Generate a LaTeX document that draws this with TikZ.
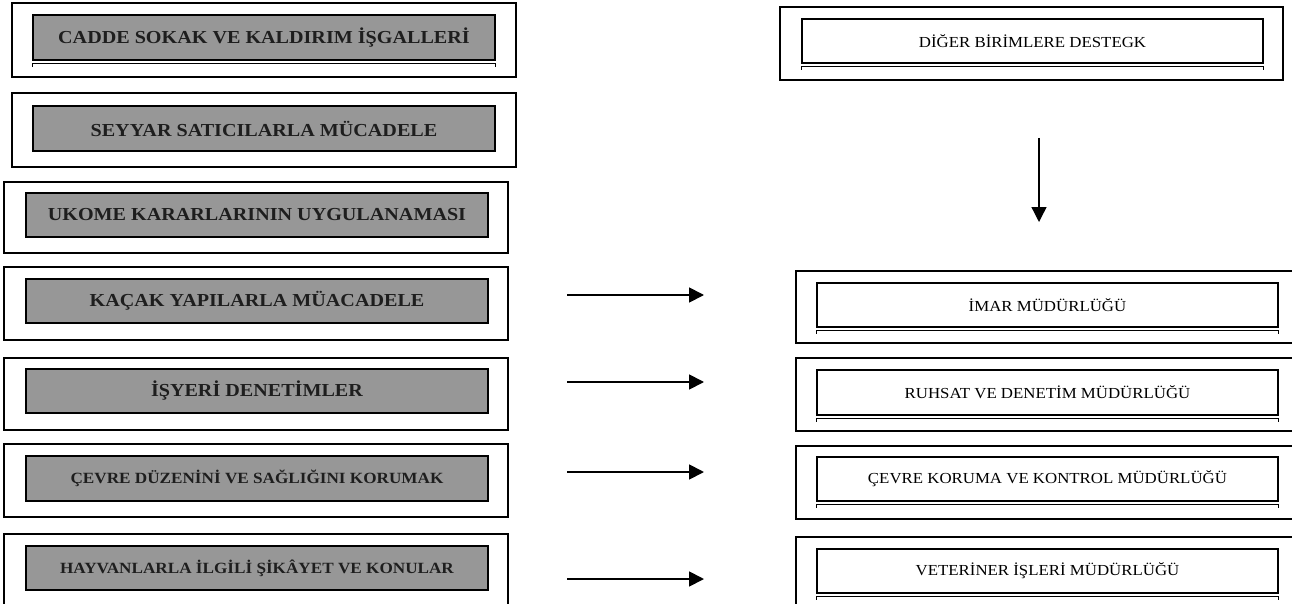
\documentclass[tikz,border=0pt]{standalone}
\usepackage{fontspec}
\setmainfont{Liberation Serif}[FakeStretch=1.1]
\usetikzlibrary{arrows.meta,calc}
\definecolor{boxgray}{HTML}{979797}
\definecolor{inkdark}{HTML}{1E1E1E}
\begin{document}
\begin{tikzpicture}[x=1pt,y=-1pt,
  outerbox/.style={draw=black,line width=1.6pt,fill=white,inner sep=0pt,minimum width=504pt,minimum height=73pt},
  graybox/.style={draw=black,line width=1.8pt,fill=boxgray,inner sep=0pt,minimum width=462pt,minimum height=44pt,text=inkdark,font=\fontsize{18.3}{20}\selectfont\bfseries},
  smallbold/.style={font=\fontsize{15.6}{18}\selectfont\bfseries},
  whitebox/.style={draw=black,line width=1.8pt,fill=white,inner sep=0pt,minimum width=461pt,minimum height=44pt,text=black,font=\fontsize{15.3}{18}\selectfont},
  stripline/.style={line width=1.6pt},
  tickline/.style={line width=1pt},
  flow/.style={line width=1.8pt,-{Triangle[length=15pt,width=15pt]}}
]
\useasboundingbox (0,0) rectangle (1292,604);
\fill[white] (0,0) rectangle (1292,604);
\clip (0,0) rectangle (1292,604);

% ---- left column ----
\node[outerbox,minimum height=74pt] (o1) at (264,40) {};
\node[graybox,minimum height=45pt] (g1) at (264,37.5) {CADDE SOKAK VE KALDIRIM İŞGALLERİ};
\node[outerbox,minimum height=74pt] (o2) at (264,130) {};
\node[graybox,minimum height=45pt] (g2) at (264,128.5) {SEYYAR SATICILARLA MÜCADELE};
\node[outerbox,minimum height=71pt] (o3) at (256,217.5) {};
\node[graybox] (g3) at (257,215) {UKOME KARARLARININ UYGULANAMASI};
\node[outerbox] (o4) at (256,303.5) {};
\node[graybox] (g4) at (257,301) {KAÇAK YAPILARLA MÜACADELE};
\node[outerbox,minimum height=72pt] (o5) at (256,394) {};
\node[graybox] (g5) at (257,391) {İŞYERİ DENETİMLER};
\node[outerbox] (o6) at (256,480.5) {};
\node[graybox,smallbold,minimum height=45pt] (g6) at (257,478.5) {ÇEVRE DÜZENİNİ VE SAĞLIĞINI KORUMAK};
\node[outerbox,minimum height=74pt] (o7) at (256,571) {};
\node[graybox,smallbold] (g7) at (257,568) {HAYVANLARLA İLGİLİ ŞİKÂYET VE KONULAR};

% strip under first box
\draw[stripline] ($(g1.south west)+(0,2.5)$) -- ($(g1.south east)+(0,2.5)$);
\draw[tickline] ($(g1.south west)+(0,2.5)$) -- ($(g1.south west)+(0,6)$);
\draw[tickline] ($(g1.south east)+(0,2.5)$) -- ($(g1.south east)+(0,6)$);

% ---- right column ----
\node[outerbox,minimum width=503pt] (r0o) at (1031.5,43.5) {};
\node[whitebox] (r0) at (1032.5,41) {DİĞER BİRİMLERE DESTEGK};
\node[outerbox,minimum height=72pt] (r1o) at (1048,307) {};
\node[whitebox] (r1) at (1047.5,305) {İMAR MÜDÜRLÜĞÜ};
\node[outerbox] (r2o) at (1048,394.5) {};
\node[whitebox,minimum height=45pt] (r2) at (1047.5,392.5) {RUHSAT VE DENETİM MÜDÜRLÜĞÜ};
\node[outerbox] (r3o) at (1048,482.5) {};
\node[whitebox] (r3) at (1047.5,479) {ÇEVRE KORUMA VE KONTROL MÜDÜRLÜĞÜ};
\node[outerbox] (r4o) at (1048,573.5) {};
\node[whitebox] (r4) at (1047.5,571) {VETERİNER İŞLERİ MÜDÜRLÜĞÜ};

\foreach \b in {r0,r1,r2,r3,r4}{
  \draw[stripline] ($(\b.south west)+(0,2.5)$) -- ($(\b.south east)+(0,2.5)$);
  \draw[tickline] ($(\b.south west)+(0,2.5)$) -- ($(\b.south west)+(0,6)$);
  \draw[tickline] ($(\b.south east)+(0,2.5)$) -- ($(\b.south east)+(0,6)$);
}

% ---- arrows ----
\coordinate (vs) at (1039,138);
\coordinate (ve) at (1039,222);
\draw[flow,line width=1.4pt] (vs) -- (ve);
\coordinate (a1s) at (567,295);  \coordinate (a1e) at (704,295);
\coordinate (a2s) at (567,382);  \coordinate (a2e) at (704,382);
\coordinate (a3s) at (567,472);  \coordinate (a3e) at (704,472);
\coordinate (a4s) at (567,579);  \coordinate (a4e) at (704,579);
\draw[flow] (a1s) -- (a1e);
\draw[flow] (a2s) -- (a2e);
\draw[flow] (a3s) -- (a3e);
\draw[flow] (a4s) -- (a4e);
\end{tikzpicture}
\end{document}
